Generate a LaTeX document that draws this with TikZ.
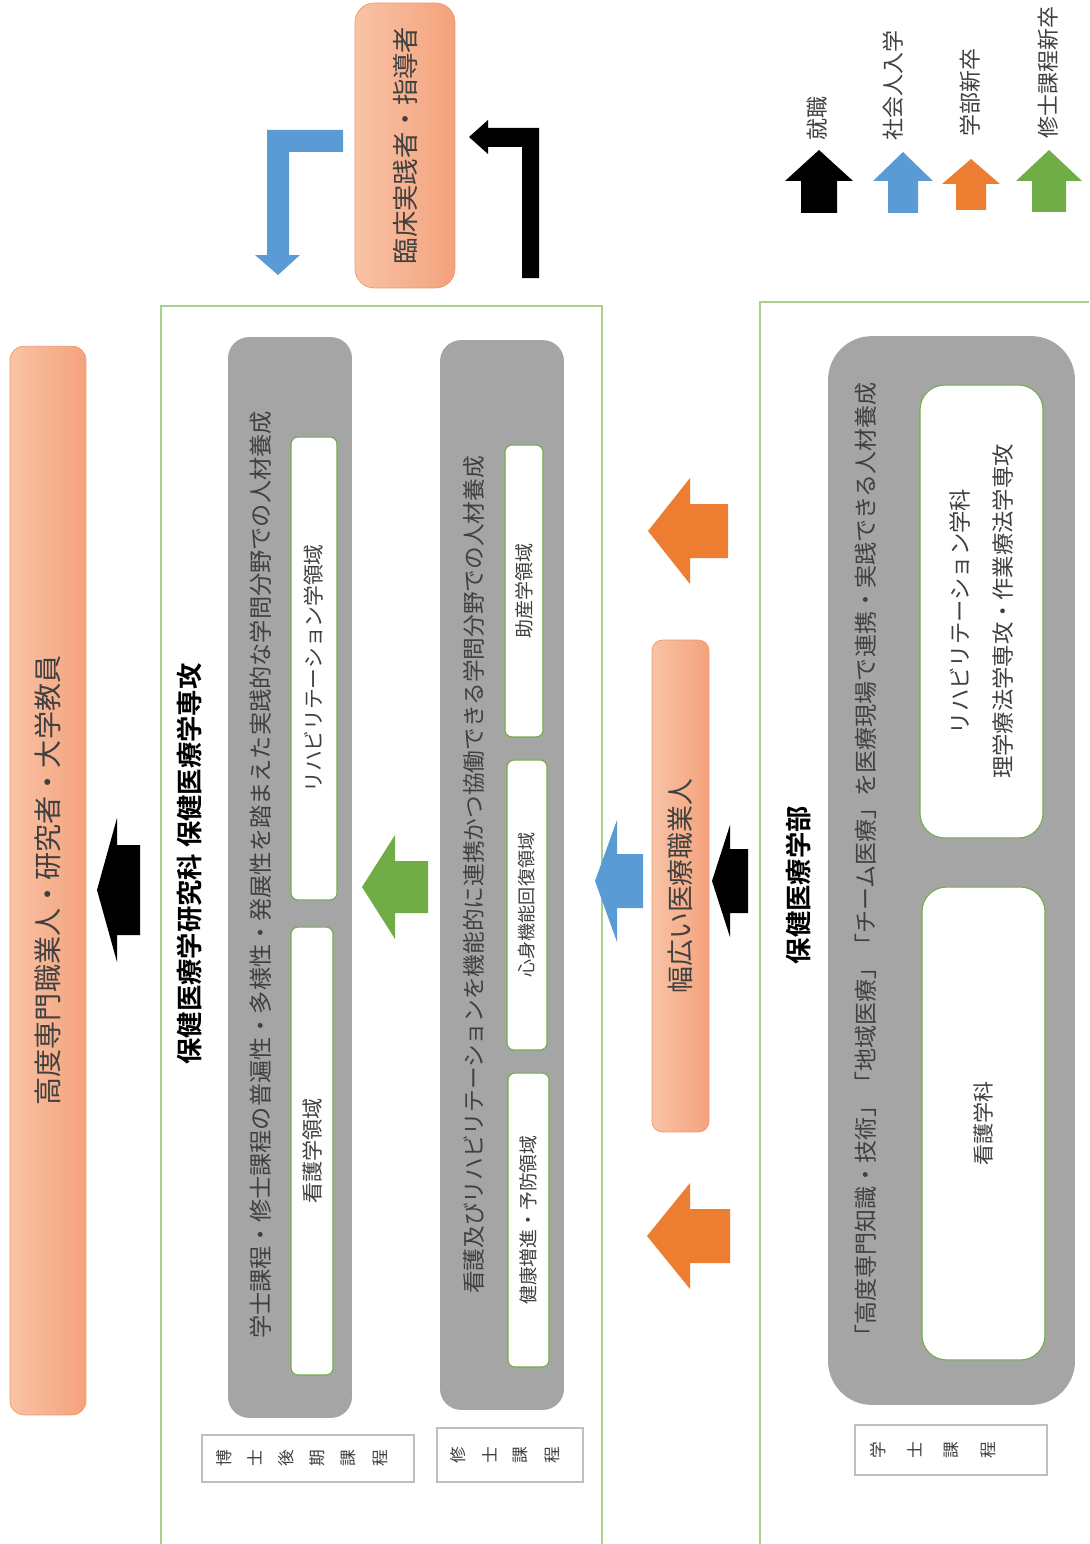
\documentclass[tikz,border=0pt]{standalone}
\usepackage{fontspec}
\setmainfont{Noto Sans CJK JP}[BoldFont={Noto Sans CJK JP Bold}]
\definecolor{salmonA}{HTML}{F8C3A6}
\definecolor{salmonB}{HTML}{F4A27C}
\definecolor{salmonline}{HTML}{F0976A}
\definecolor{boxgray}{HTML}{A5A5A5}
\definecolor{frameGreen}{HTML}{A9D18E}
\definecolor{edgeGreen}{HTML}{70AD47}
\definecolor{arrOrange}{HTML}{ED7D31}
\definecolor{arrBlue}{HTML}{5B9BD5}
\definecolor{arrGreen}{HTML}{70AD47}
\definecolor{txtgray}{HTML}{404040}
% block arrows: tip x, tip y, head base, tail, head half width, shaft half width, colour
\newcommand{\blockleft}[7]{\fill[#7] (#1,#2) -- (#3,#2-#5) -- (#3,#2-#6) -- (#4,#2-#6) -- (#4,#2+#6) -- (#3,#2+#6) -- (#3,#2+#5) -- cycle;}
\newcommand{\blockup}[7]{\fill[#7] (#1,#2) -- (#1+#5,#3) -- (#1+#6,#3) -- (#1+#6,#4) -- (#1-#6,#4) -- (#1-#6,#3) -- (#1-#5,#3) -- cycle;}
\begin{document}
\begin{tikzpicture}[x=0.02cm, y=-0.02cm,
    salmonbox/.style={rotate=90, draw=salmonline, left color=salmonA, right color=salmonB, inner sep=0pt, text=txtgray},
    graypanel/.style={rotate=90, fill=boxgray, inner sep=0pt},
    fieldbox/.style={rotate=90, fill=white, draw=edgeGreen, line width=0.6pt, inner sep=0pt, text=txtgray, align=center},
    tagbox/.style={draw=black!25, fill=white, line width=0.8pt, inner sep=0pt},
    tagchar/.style={rotate=90, text=txtgray, inner sep=0pt, font=\fontsize{9.5}{9.5}\selectfont},
    vtext/.style={rotate=90, text=txtgray, inner sep=0pt},
    schoolframe/.style={draw=frameGreen, line width=1.1pt}]
  \useasboundingbox (0,0) rectangle (1089,1544);

  % legend
  \blockup{819}{150}{181}{213}{34}{18}{black}
  \blockup{903}{152}{181}{213}{30}{15}{arrBlue}
  \blockup{971}{159}{184}{210}{29}{15}{arrOrange}
  \blockup{1049}{150}{181}{212}{33}{17}{arrGreen}
  \begin{scope}[every node/.style={vtext, anchor=west, font=\fontsize{12.5}{12.5}\selectfont}]
    \node (lgWork) at (817,141) {就職};
    \node (lgAdult) at (893,141) {社会人入学};
    \node (lgBach) at (970,137) {学部新卒};
    \node (lgMast) at (1048,139) {修士課程新卒};
  \end{scope}

  % career boxes
  \node[salmonbox, rounded corners=11pt, minimum width=5.7cm, minimum height=2cm,
    font=\fontsize{15}{15}\selectfont] (clin) at (405,145.5) {臨床実践者・指導者};
  \node[salmonbox, rounded corners=8pt, minimum width=21.38cm, minimum height=1.52cm,
    font=\fontsize{16}{16}\selectfont] (career) at (48,880.5) {高度専門職業人・研究者・大学教員};
  \node[salmonbox, rounded corners=6pt, minimum width=9.84cm, minimum height=1.14cm,
    font=\fontsize{15.3}{15.3}\selectfont] (broad) at (680.5,886) {幅広い医療職業人};

  % bent arrows beside clin
  \fill[arrBlue] (267,130) -- (343,130) -- (343,152) -- (289,152) -- (289,255) -- (300,255)
    -- (278,275) -- (255,255) -- (267,255) -- cycle;
  \fill[black] (539,278) -- (522,278) -- (522,147) -- (488,147) -- (488,154) -- (469,137)
    -- (488,120) -- (488,128) -- (539,128) -- cycle;

  % graduate school
  \draw[schoolframe] (161,1544) -- (161,306) -- (602,306) -- (602,1544);
  \node[rotate=90, inner sep=0pt, font=\bfseries\fontsize{15}{15}\selectfont] (gradTitle) at (190,864)
    {保健医療学研究科 保健医療学専攻};

  \node[graypanel, rounded corners=12pt, minimum width=21.62cm, minimum height=2.48cm] (docPanel) at (290,877.5) {};
  \node[vtext, font=\fontsize{13.2}{13.2}\selectfont] (docText) at (261,875)
    {学士課程・修士課程の普遍性・多様性・発展性を踏まえた実践的な学問分野での人材養成};
  \node[fieldbox, rounded corners=4pt, minimum width=9.26cm, minimum height=0.92cm,
    font=\fontsize{11.8}{11.8}\selectfont] (docRehab) at (314,668.5) {リハビリテーション学領域};
  \node[fieldbox, rounded corners=4pt, minimum width=8.96cm, minimum height=0.84cm,
    font=\fontsize{12}{12}\selectfont] (docNurse) at (312,1151) {看護学領域};

  \node[graypanel, rounded corners=12pt, minimum width=21.4cm, minimum height=2.48cm] (masPanel) at (502,875) {};
  \node[vtext, font=\fontsize{12.9}{12.9}\selectfont] (masText) at (474,875)
    {看護及びリハビリテーションを機能的に連携かつ協働できる学問分野での人材養成};
  \node[fieldbox, rounded corners=4pt, minimum width=5.84cm, minimum height=0.76cm,
    font=\fontsize{10.8}{10.8}\selectfont] (masMidwife) at (524,591) {助産学領域};
  \node[fieldbox, rounded corners=4pt, minimum width=5.8cm, minimum height=0.8cm,
    font=\fontsize{10.3}{10.3}\selectfont] (masFunc) at (527,905) {心身機能回復領域};
  \node[fieldbox, rounded corners=4pt, minimum width=5.88cm, minimum height=0.82cm,
    font=\fontsize{10.7}{10.7}\selectfont] (masPrev) at (528.5,1220) {健康増進・予防領域};

  \node[tagbox, minimum width=4.24cm, minimum height=0.94cm] (docTag) at (308,1458.5) {};
  \foreach \ch [count=\i from 0] in {博,士,後,期,課,程}
    \node[tagchar] (docCh\i) at (224+31.2*\i,1458) {\ch};
  \node[tagbox, minimum width=2.92cm, minimum height=1.08cm] (masTag) at (510,1455) {};
  \foreach \ch [count=\i from 0] in {修,士,課,程}
    \node[tagchar] (masCh\i) at (458+31.3*\i,1455) {\ch};

  % arrows between the courses
  \blockleft{97}{890}{117}{140}{72}{45}{black}
  \blockleft{362}{887}{395}{428}{52}{26}{arrGreen}
  \blockleft{595}{881}{617}{643}{61}{27}{arrBlue}
  \blockleft{712}{881}{730}{748}{56}{32}{black}
  \blockleft{648}{531}{690}{728}{53}{27}{arrOrange}
  \blockleft{647}{1236}{690}{730}{53}{27}{arrOrange}

  % faculty
  \draw[schoolframe] (760,1544) -- (760,302) -- (1089,302);
  \node[rotate=90, inner sep=0pt, font=\bfseries\fontsize{15}{15}\selectfont] (bacTitle) at (798,885) {保健医療学部};

  \node[graypanel, rounded corners=25pt, minimum width=21.38cm, minimum height=4.94cm] (bacPanel) at (951.5,870.5) {};
  \node[vtext, font=\fontsize{13.1}{13.1}\selectfont] (bacText) at (866,865)
    {「高度専門知識・技術」「地域医療」「チーム医療」を医療現場で連携・実践できる人材養成};
  \node[fieldbox, rounded corners=14pt, minimum width=9.06cm, minimum height=2.46cm,
    font=\fontsize{12.7}{24}\selectfont] (bacRehab) at (981.5,611.5)
    {リハビリテーション学科\\理学療法学専攻・作業療法学専攻};
  \node[fieldbox, rounded corners=14pt, minimum width=9.46cm, minimum height=2.46cm,
    font=\fontsize{12}{12}\selectfont] (bacNurse) at (983.5,1123.5) {看護学科};

  \node[tagbox, minimum width=3.84cm, minimum height=1cm] (bacTag) at (951,1450) {};
  \foreach \ch [count=\i from 0] in {学,士,課,程}
    \node[tagchar] (bacCh\i) at (878+36.7*\i,1450) {\ch};
\end{tikzpicture}
\end{document}
